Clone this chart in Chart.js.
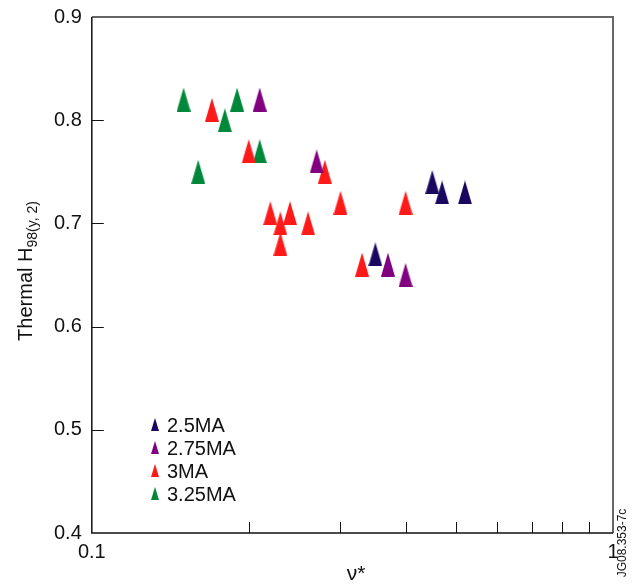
<!DOCTYPE html>
<html>
<head>
<meta charset="utf-8">
<script src="https://cdn.jsdelivr.net/npm/chart.js@4/dist/chart.umd.min.js"></script>
<style>
  html, body { margin: 0; padding: 0; background: #fff; }
  #wrap { width: 633px; height: 585px; position: relative; }
</style>
</head>
<body>
<div id="wrap"><canvas id="chart"></canvas></div>
<script>
// values (collisionality nu*, thermal H98)
const nu25 = [0.35, 0.45, 0.47, 0.52];
const h25 = [0.67, 0.74, 0.73, 0.73];
const nu275 = [0.21, 0.27, 0.37, 0.40];
const h275 = [0.82, 0.76, 0.66, 0.65];
const nu3 = [0.17, 0.20, 0.28, 0.30, 0.40, 0.22, 0.24, 0.23, 0.26, 0.23, 0.33];
const h3 = [0.81, 0.77, 0.75, 0.72, 0.72, 0.71, 0.71, 0.70, 0.70, 0.68, 0.66];
const nu325 = [0.15, 0.18, 0.19, 0.21, 0.16];
const h325 = [0.82, 0.80, 0.82, 0.77, 0.75];

const seriesNames = ['2.5MA', '2.75MA', '3MA', '3.25MA'];
const seriesColors = ['#1a0860', '#800080', '#ff1a1a', '#00883a'];
const xTickValues = [0.1, 0.2, 0.3, 0.4, 0.5, 0.6, 0.7, 0.8, 0.9, 1];
const yTickValues = [0.4, 0.5, 0.6, 0.7, 0.8, 0.9];

const FONT = '"Liberation Sans", Arial, Helvetica, sans-serif';

// tall narrow triangle marker
function triangle(color, w, h) {
    const c = document.createElement('canvas');
    c.width = w; c.height = h;
    const g = c.getContext('2d');
    g.fillStyle = color;
    g.beginPath();
    g.moveTo(w / 2, 0);
    g.lineTo(w, h);
    g.lineTo(0, h);
    g.closePath();
    g.fill();
    return c;
}

function pts(xs, ys) {
    return xs.map((x, i) => ({ x: x, y: ys[i] }));
}

const allData = [pts(nu25, h25), pts(nu275, h275), pts(nu3, h3), pts(nu325, h325)];

const datasets = seriesNames.map((name, i) => ({
    label: name,
    data: allData[i],
    pointStyle: triangle(seriesColors[i], 14, 24),
    backgroundColor: seriesColors[i],
    borderColor: seriesColors[i],
    showLine: false
}));

const framePlugin = {
    id: 'frame',
    afterDraw(chart) {
        const ctx = chart.ctx;
        const a = chart.chartArea;
        const xs = chart.scales.x, ys = chart.scales.y;
        ctx.save();
        // top and right edges in grey
        ctx.strokeStyle = '#666';
        ctx.lineWidth = 2;
        ctx.beginPath();
        ctx.moveTo(a.left, a.top);
        ctx.lineTo(a.right, a.top);
        ctx.lineTo(a.right, a.bottom);
        ctx.stroke();
        // left and bottom in black
        ctx.strokeStyle = '#111';
        ctx.lineWidth = 1.5;
        ctx.beginPath();
        ctx.moveTo(a.left, a.top);
        ctx.lineTo(a.left, a.bottom);
        ctx.lineTo(a.right, a.bottom);
        ctx.stroke();
        // inward ticks
        ctx.lineWidth = 1;
        ctx.beginPath();
        xTickValues.slice(1, -1).forEach(v => {
            const px = Math.round(xs.getPixelForValue(v)) + 0.5;
            ctx.moveTo(px, a.bottom);
            ctx.lineTo(px, a.bottom - 11);
        });
        yTickValues.slice(1, -1).forEach(v => {
            const py = Math.round(ys.getPixelForValue(v)) + 0.5;
            ctx.moveTo(a.left, py);
            ctx.lineTo(a.left + 12, py);
        });
        ctx.stroke();

        // legend
        ctx.font = '20px ' + FONT;
        ctx.textBaseline = 'middle';
        seriesNames.forEach((name, i) => {
            const y = 425 + i * 23;
            ctx.drawImage(triangle(seriesColors[i], 8, 13), 151, y - 7);
            ctx.fillStyle = '#111';
            ctx.fillText(name, 167, y + 1);
        });

        // y axis title with subscript
        ctx.save();
        ctx.translate(25, 271);
        ctx.rotate(-Math.PI / 2);
        ctx.font = '20px ' + FONT;
        const main = 'Thermal H';
        const sub = '98(y, 2)';
        const w1 = ctx.measureText(main).width;
        ctx.font = '14px ' + FONT;
        const w2 = ctx.measureText(sub).width;
        const x0 = -(w1 + w2) / 2;
        ctx.textBaseline = 'alphabetic';
        ctx.font = '20px ' + FONT;
        ctx.fillText(main, x0, 7);
        ctx.font = '14px ' + FONT;
        ctx.fillText(sub, x0 + w1, 12);
        ctx.restore();

        // x axis title
        ctx.font = '21px ' + FONT;
        ctx.textAlign = 'center';
        ctx.textBaseline = 'alphabetic';
        ctx.fillText('\u03BD*', 356, 580);

        // figure id
        ctx.save();
        ctx.translate(623, 543);
        ctx.rotate(-Math.PI / 2);
        ctx.font = '12px ' + FONT;
        ctx.textAlign = 'center';
        ctx.textBaseline = 'middle';
        ctx.fillText('JG08.353-7c', 0, 0);
        ctx.restore();

        ctx.restore();
    }
};

new Chart(document.getElementById('chart'), {
    type: 'scatter',
    data: { datasets: datasets },
    options: {
        responsive: true,
        maintainAspectRatio: false,
        animation: false,
        layout: { padding: { left: 44, right: 20, top: 0, bottom: 14 } },
        plugins: { legend: { display: false }, tooltip: { enabled: false } },
        elements: { point: { radius: 7 } },
        scales: {
            x: {
                type: 'logarithmic',
                min: 0.1,
                max: 1,
                afterBuildTicks(scale) {
                    scale.ticks = xTickValues.map(v => ({ value: v }));
                },
                ticks: {
                    autoSkip: false,
                    maxRotation: 0,
                    padding: 7,
                    color: '#111',
                    font: { family: FONT, size: 20 },
                    callback: v => (v === 0.1 ? '0.1' : (v === 1 ? '1' : ''))
                },
                grid: { display: false, drawTicks: false },
                border: { display: false }
            },
            y: {
                min: 0.4,
                max: 0.9,
                afterBuildTicks(scale) {
                    scale.ticks = yTickValues.map(v => ({ value: v }));
                },
                ticks: {
                    padding: 10,
                    color: '#111',
                    font: { family: FONT, size: 20, lineHeight: 0.7 },
                    callback: v => v.toFixed(1)
                },
                grid: { display: false, drawTicks: false },
                border: { display: false }
            }
        }
    },
    plugins: [framePlugin]
});
</script>
</body>
</html>
